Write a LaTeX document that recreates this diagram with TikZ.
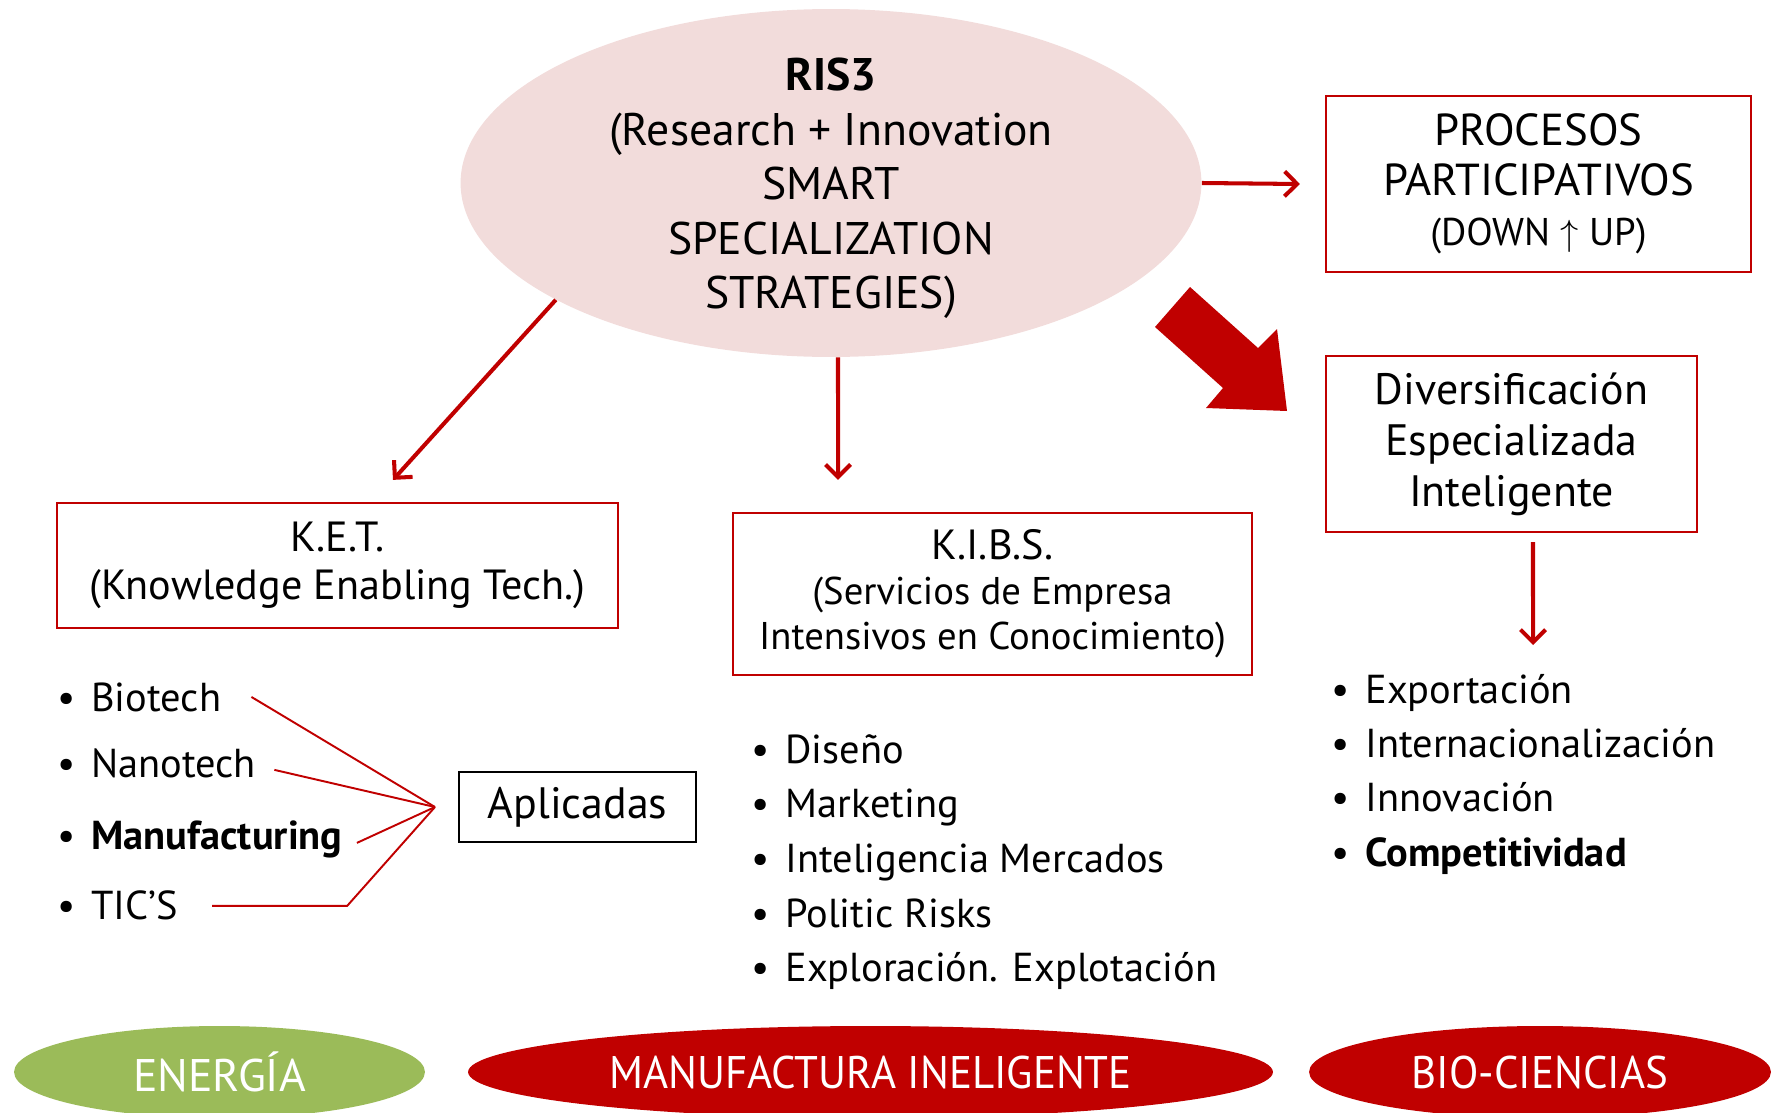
\documentclass[tikz,border=0pt]{standalone}
\usepackage{fontspec}
\setmainfont{PT Sans}
\usetikzlibrary{arrows.meta,positioning,shapes.geometric,calc}

\definecolor{risred}{HTML}{C00000}
\definecolor{rispink}{HTML}{F2DCDB}
\definecolor{risgreen}{HTML}{9BBB59}

\newcommand{\itm}[1]{\makebox[0.68cm][l]{\textbullet}#1}

\begin{document}
\begin{tikzpicture}
			[x=0.02cm,y=-0.02cm,on grid,
			redbox/.style={rectangle,draw=risred,line width=1.3pt,inner sep=0pt,align=center},
			post/.style={->,>={Straight Barb[length=2.5mm,width=5mm]},draw=risred,line width=2.3pt},
			link/.style={draw=risred,line width=1.1pt},
			listitem/.style={inner sep=0pt,anchor=base west,font=\fontsize{23}{28}\selectfont},
			region/.style={ellipse,fill=#1,inner sep=0pt,minimum height=1.84cm,text=white,font=\fontsize{26}{30}\selectfont}]

			\useasboundingbox (0,0) rectangle (1774,1112);
			\clip (0,0) rectangle (1774,1112);

			\node [ellipse,fill=rispink,minimum width=14.82cm,minimum height=6.96cm,inner sep=0pt] (ris) at (831,183) {};
			\node [align=center,inner sep=0pt,font=\fontsize{26}{31}\selectfont] (ristxt) at ([yshift=-0.11cm]ris.center)
				{\textbf{RIS3}\\(Research + Innovation\\SMART\\SPECIALIZATION\\STRATEGIES)};

			\node [redbox,minimum width=8.5cm,minimum height=3.52cm,font=\fontsize{25.5}{28.5}\selectfont] (proc) at (1538.5,184)
				{PROCESOS\\PARTICIPATIVOS\\{\fontsize{22}{28.5}\selectfont(DOWN $\Big\uparrow$ UP)}};
			\node [redbox,minimum width=7.42cm,minimum height=3.52cm,font=\fontsize{25}{29}\selectfont] (div) at (1511.5,444)
				{Diversificación\\Especializada\\Inteligente};
			\node [redbox,minimum width=11.22cm,minimum height=2.5cm,font=\fontsize{24}{27.6}\selectfont] (ket) at (337.5,565.5)
				{K.E.T.\\(Knowledge Enabling Tech.)};
			\node [redbox,minimum width=10.38cm,minimum height=3.24cm,font=\fontsize{22}{25.6}\selectfont] (kibs) at (992.5,594)
				{{\fontsize{24}{25.6}\selectfont K.I.B.S.}\\(Servicios de Empresa\\Intensivos en Conocimiento)};
			\node [draw=black,line width=1.2pt,minimum width=4.74cm,minimum height=1.4cm,inner sep=0pt,
				font=\fontsize{25}{29}\selectfont] (apl) at (577.5,807) {Aplicadas};

			\draw [post] (ris.east) -- ([xshift=-0.5cm]proc.west);
			\draw [post] (ris.203.2) -- ([xshift=1.11cm,yshift=0.44cm]ket.north);
			\draw [post] ([xshift=0.14cm]ris.south) -- ([xshift=-3.09cm,yshift=0.64cm]kibs.north);
			\coordinate (divend) at (1533,645);
			\draw [post] ([xshift=0.43cm,yshift=-0.18cm]div.south) -- (divend);

			\fill [risred] (1190,287) -- (1258,348) -- (1277,329) -- (1287,411) -- (1206,408) -- (1223,388) -- (1155,327) -- cycle;

			\node [listitem] (bio) at (57,711) {\itm{Biotech}};
			\node [below=1.34cm of bio.base west,listitem] (nano) {\itm{Nanotech}};
			\node [below=1.44cm of nano.base west,listitem] (manu) {\itm{\textbf{Manufacturing}}};
			\node [below=1.4cm of manu.base west,listitem] (tics) {\itm{TIC’S}};

			\coordinate (hub) at ($(apl.west)+(-23,0)$);
			\draw [link] ([xshift=0.6cm]bio.east) -- (hub);
			\draw [link] ([xshift=0.36cm,yshift=-0.12cm]nano.east) -- (hub);
			\draw [link] ([xshift=0.28cm,yshift=-0.06cm]manu.east) -- (hub);
			\draw [link] ([xshift=0.68cm]tics.east) -- ++(135,0) -- (hub);

			\node [listitem] (dis) at (751,763) {\itm{Diseño}};
			\node [below=1.095cm of dis.base west,listitem] (mkt) {\itm{Marketing}};
			\node [below=1.095cm of mkt.base west,listitem] (intm) {\itm{Inteligencia Mercados}};
			\node [below=1.095cm of intm.base west,listitem] (pol) {\itm{Politic Risks}};
			\node [below=1.095cm of pol.base west,listitem] (expl) {\itm{Exploración. Explotación}};

			\node [listitem] (exp) at (1331,703) {\itm{Exportación}};
			\node [below=1.09cm of exp.base west,listitem] (intz) {\itm{Internacionalización}};
			\node [below=1.09cm of intz.base west,listitem] (inno) {\itm{Innovación}};
			\node [below=1.09cm of inno.base west,listitem] (comp) {\itm{\textbf{Competitividad}}};

			\node [region=risgreen,minimum width=8.22cm] (ener) at (219.5,1072) {ENERGÍA};
			\node [region=risred,minimum width=16.1cm] (manf) at (870.5,1072) {\scalebox{0.94}[1]{MANUFACTURA INELIGENTE}};
			\node [region=risred,minimum width=9.24cm] (bioc) at (1540,1072) {\scalebox{0.94}[1]{BIO-CIENCIAS}};

\end{tikzpicture}
\end{document}
